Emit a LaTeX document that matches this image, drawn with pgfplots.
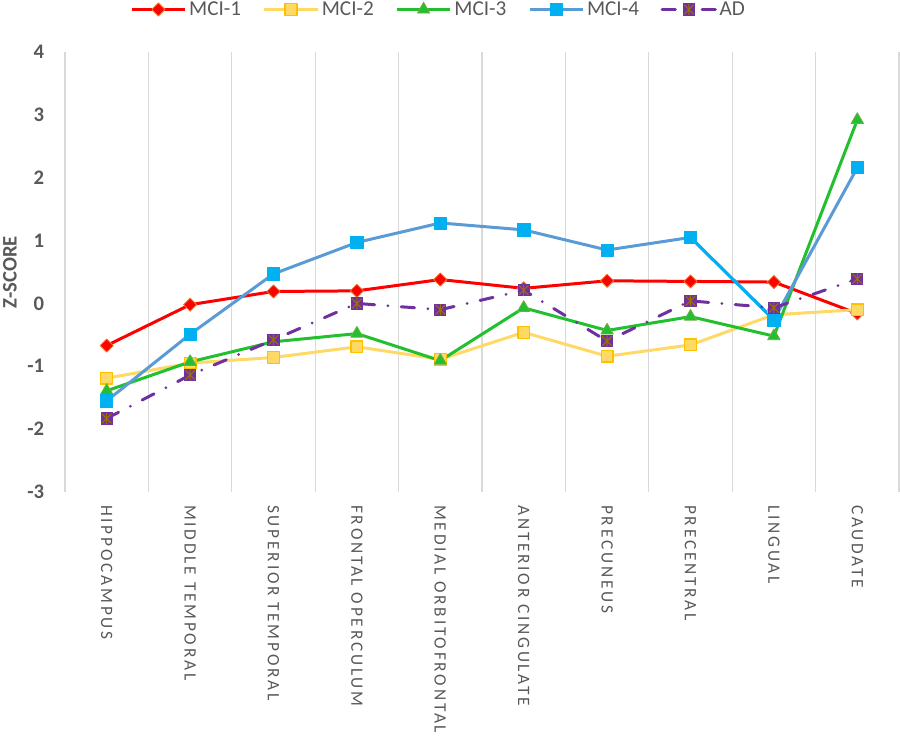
\documentclass[border=0pt]{standalone}
\usepackage{fontspec}
\setmainfont{Carlito}
\newfontfamily\xlabfont[LetterSpace=16]{Carlito}
\usepackage{pgfplots}
\pgfplotsset{compat=1.18}
\definecolor{txt}{HTML}{595959}
\definecolor{gridc}{HTML}{D9D9D9}
\definecolor{c1}{HTML}{FF0000}
\definecolor{c1e}{HTML}{ED7D31}
\definecolor{c2}{HTML}{FFD966}
\definecolor{c2e}{HTML}{FFC000}
\definecolor{c3}{HTML}{22C02E}
\definecolor{c3e}{HTML}{70AD47}
\definecolor{c4}{HTML}{5B9BD5}
\definecolor{c4m}{HTML}{00B0F0}
\definecolor{c5}{HTML}{7030A0}
\definecolor{c5s}{HTML}{9C7000}
\pgfdeclareplotmark{sqstar}{%
  \pgfsetcolor{c5}%
  \pgfpathrectangle{\pgfqpoint{-\pgfplotmarksize}{-\pgfplotmarksize}}{\pgfqpoint{2\pgfplotmarksize}{2\pgfplotmarksize}}%
  \pgfusepath{fill}%
  \pgfsetcolor{c5s}%
  \pgfsetlinewidth{0.8pt}%
  \pgfpathmoveto{\pgfqpoint{-0.75\pgfplotmarksize}{-0.75\pgfplotmarksize}}%
  \pgfpathlineto{\pgfqpoint{0.75\pgfplotmarksize}{0.75\pgfplotmarksize}}%
  \pgfpathmoveto{\pgfqpoint{-0.75\pgfplotmarksize}{0.75\pgfplotmarksize}}%
  \pgfpathlineto{\pgfqpoint{0.75\pgfplotmarksize}{-0.75\pgfplotmarksize}}%
  \pgfpathmoveto{\pgfqpoint{0pt}{-0.85\pgfplotmarksize}}%
  \pgfpathlineto{\pgfqpoint{0pt}{0.85\pgfplotmarksize}}%
  \pgfusepath{stroke}%
}
\begin{document}
\begin{tikzpicture}
\begin{axis}[
  scale only axis, width=625.5pt, height=330pt,
  at={(0,0)}, anchor=south west,
  xmin=-0.5, xmax=9.5, ymin=-3, ymax=4,
  xtick={0,...,9},
  xticklabels={HIPPOCAMPUS,MIDDLE TEMPORAL,SUPERIOR TEMPORAL,FRONTAL OPERCULUM,MEDIAL ORBITOFRONTAL,ANTERIOR CINGULATE,PRECUNEUS,PRECENTRAL,LINGUAL,CAUDATE},
  ytick={-3,...,4},
  yticklabels={-3,-2,-1,0,1,2,3,4},
  minor xtick={-0.5,0.5,...,9.5},
  xminorgrids=true,
  minor x grid style={draw=gridc, line width=1pt},
  axis line style={draw=none},
  major tick length=0pt, minor tick length=0pt,
  clip=false,
  xticklabel style={rotate=-90, anchor=west, font=\xlabfont\fontsize{13}{15}\selectfont, text=txt, inner ysep=0pt, inner xsep=9.75pt},
  yticklabel style={anchor=east, font=\bfseries\fontsize{15.5}{18}\selectfont, text=txt, inner ysep=0pt, inner xsep=15.5pt},
  ylabel={Z-SCORE},
  ylabel style={at={(axis description cs:-0.066,0.5)}, anchor=center, font=\bfseries\fontsize{15.5}{18}\selectfont, text=txt},
  legend columns=5,
  legend style={draw=none, fill=none, at={(axis description cs:0.0779,1.0966)}, anchor=west, inner sep=0pt,
    font=\fontsize{15.9}{18}\selectfont, text=txt,
    /tikz/every even column/.append style={column sep=14.2pt}},
  legend image code/.code={\draw[mark repeat=2,mark phase=2,#1] plot coordinates {(0pt,0pt) (20pt,0pt) (40pt,0pt)};},
  every axis plot/.append style={line width=2.25pt, line join=round},
]
\addplot[color=c1, mark=square*, mark size=3.5pt, mark options={solid, rotate=45, fill=c1, draw=c1e, line width=0.6pt}]
  coordinates {(0,-0.67) (1,-0.02) (2,0.19) (3,0.20) (4,0.38) (5,0.24) (6,0.36) (7,0.35) (8,0.34) (9,-0.16)};
\addlegendentry{MCI-1}
\addplot[color=c2, mark=square*, mark size=4.4pt, mark options={solid, fill=c2, draw=c2e, line width=1pt}]
  coordinates {(0,-1.19) (1,-0.95) (2,-0.86) (3,-0.69) (4,-0.89) (5,-0.46) (6,-0.84) (7,-0.66) (8,-0.18) (9,-0.10)};
\addlegendentry{MCI-2}
\addplot[color=c3, mark=triangle*, mark size=5.4pt, mark options={solid, fill=c3, draw=c3e, line width=0.6pt}]
  coordinates {(0,-1.39) (1,-0.93) (2,-0.61) (3,-0.48) (4,-0.91) (5,-0.07) (6,-0.43) (7,-0.21) (8,-0.52) (9,2.92)};
\addlegendentry{MCI-3}
\addplot[color=c4, mark=square*, mark size=4.6pt, mark options={solid, fill=c4m, draw=c4m, line width=0.5pt}]
  coordinates {(0,-1.55) (1,-0.49) (2,0.47) (3,0.97) (4,1.28) (5,1.17) (6,0.85) (7,1.05) (8,-0.26) (9,2.16)};
\addlegendentry{MCI-4}
\addplot[color=c4m, no marks, forget plot] coordinates {(7,1.05) (8,-0.26)};
\addplot[color=c5, line cap=round, dash pattern=on 10pt off 10pt on 0pt off 10pt, mark=sqstar, mark size=4.6pt, mark options={solid}]
  coordinates {(0,-1.83) (1,-1.14) (2,-0.58) (3,0.00) (4,-0.10) (5,0.21) (6,-0.60) (7,0.04) (8,-0.07) (9,0.39)};
\addlegendentry{AD}
\end{axis}
\pgfresetboundingbox
\path[use as bounding box] (-48.75pt,-189.75pt) rectangle (626.25pt,369pt);
\end{tikzpicture}
\end{document}
